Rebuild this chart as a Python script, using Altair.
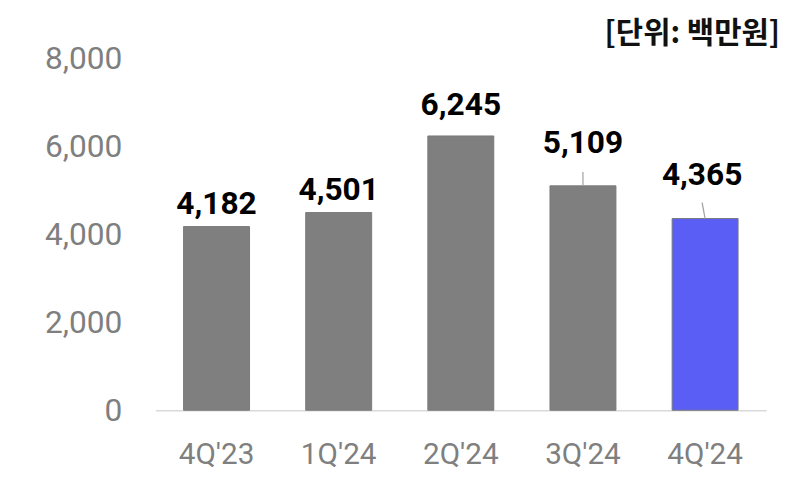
import altair as alt
import pandas as pd

categories = ["4Q'23", "1Q'24", "2Q'24", "3Q'24", "4Q'24"]
values = [4182, 4501, 6245, 5109, 4365]
y_ticks = [0, 2000, 4000, 6000, 8000]
unit_text = "[단위: 백만원]"
highlight = "4Q'24"

df = pd.DataFrame({"cat": categories, "val": values})
df["hl"] = df["cat"] == highlight

W, H = 617, 355

x = alt.X("cat:N", sort=categories, title=None,
          scale=alt.Scale(paddingInner=0.46, paddingOuter=0.23),
          axis=alt.Axis(labelAngle=0, labelFont="Roboto", labelFontSize=30,
                        labelColor="#7f7f7f", labelPadding=30, ticks=False,
                        domainColor="#d9d9d9", domainWidth=1.5))
y = alt.Y("val:Q", title=None,
          scale=alt.Scale(domain=[0, 8000], nice=False),
          axis=alt.Axis(values=y_ticks, labelExpr="format(datum.value, ',')",
                        labelFont="Roboto",
                        labelFontSize=32, labelColor="#7f7f7f", labelPadding=34,
                        ticks=False, domain=False, grid=False))

base = alt.Chart(df)

bars = base.mark_bar(strokeWidth=1).encode(
    x=x, y=y,
    color=alt.condition("datum.hl", alt.value("#5b5ef5"), alt.value("#7f7f7f")),
    stroke=alt.value("#7a7a7a"),
)

def label(cats, dy, dx=0):
    return base.transform_filter(
        alt.FieldOneOfPredicate(field="cat", oneOf=cats)
    ).mark_text(font="Roboto", fontSize=32, fontWeight="bold", color="#000000",
                baseline="alphabetic", dy=dy, dx=dx).encode(
        x=alt.X("cat:N", sort=categories), y="val:Q",
        text=alt.Text("val:Q", format=","))

labels = [
    label(["4Q'23", "1Q'24"], -13),
    label(["2Q'24"], -21),
    label(["3Q'24"], -33),
    label(["4Q'24"], -34, -3),
]

lead1 = base.transform_filter(
    alt.FieldOneOfPredicate(field="cat", oneOf=["3Q'24"])
).mark_rule(color="#a0a0a0", strokeWidth=1.2, y2Offset=-14).encode(
    x=alt.X("cat:N", sort=categories), y="val:Q", y2="val:Q")

lead2 = base.transform_filter(
    alt.FieldOneOfPredicate(field="cat", oneOf=["4Q'24"])
).mark_rule(color="#a0a0a0", strokeWidth=1.2, y2Offset=-16, x2Offset=-3).encode(
    x=alt.X("cat:N", sort=categories), x2=alt.X2("cat:N"), y="val:Q", y2="val:Q")

unit = alt.Chart(pd.DataFrame({"t": [unit_text]})).mark_text(
    font="Noto Sans CJK KR", fontSize=30, fontWeight="bold", color="#111111",
    align="right", baseline="middle"
).encode(x=alt.value(W + 14), y=alt.value(-25), text="t:N")

chart = alt.layer(bars, lead1, lead2, *labels, unit).properties(
    width=W, height=H,
    background="white",
    autosize=alt.AutoSizeParams(type="none"),
    padding={"left": 149, "top": 49, "right": 16, "bottom": 60},
).configure_view(stroke=None)

chart.save("out.html", embed_options={"renderer": "svg", "actions": False})
